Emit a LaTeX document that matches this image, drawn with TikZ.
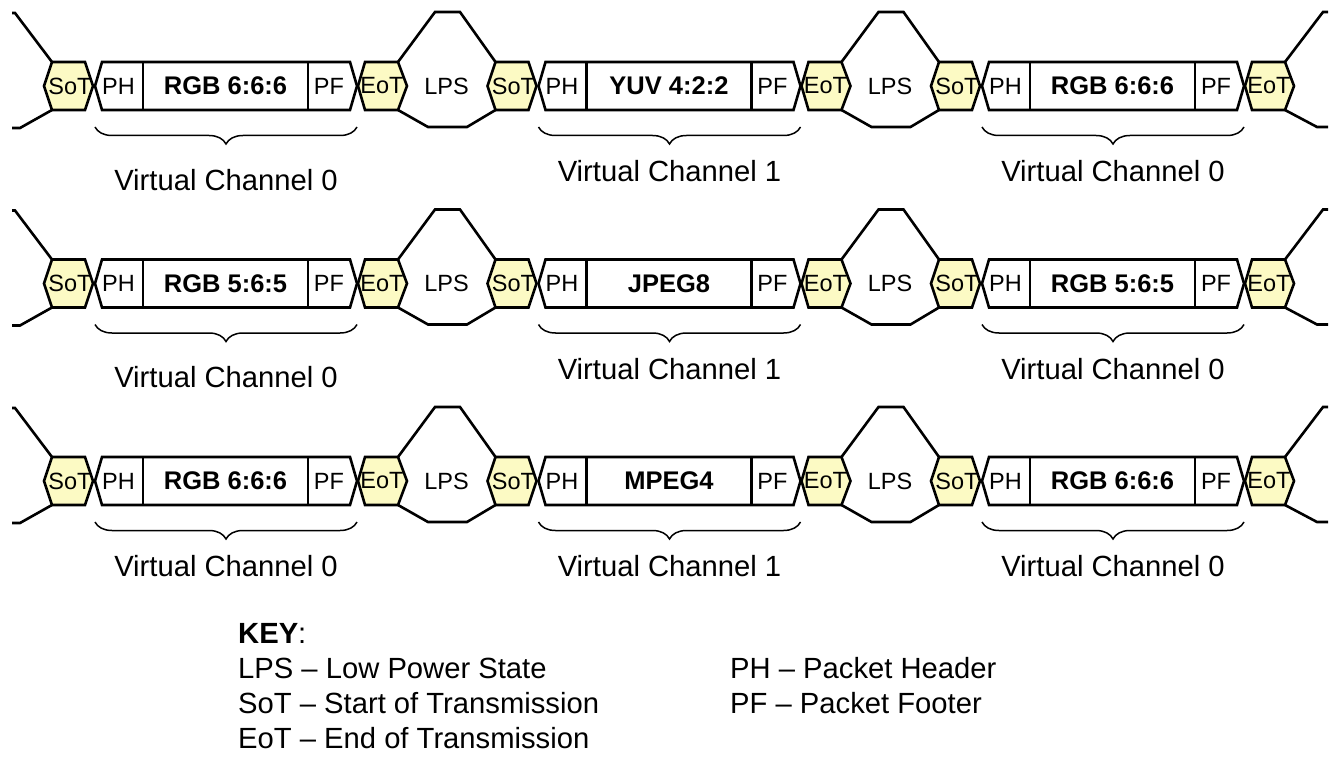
\documentclass[tikz,border=0pt]{standalone}
\usepackage{fontspec}
\setmainfont{Liberation Sans}
\usetikzlibrary{decorations.pathreplacing}
\definecolor{hexfill}{RGB}{252,250,196}
\begin{document}
\begin{tikzpicture}[x=1pt,y=-1pt,
  wire/.style={line width=2.6pt, line join=miter},
  hexbox/.style={wire, fill=hexfill},
  pkt/.style={wire, fill=white},
  lbl/.style={font=\fontsize{23.5}{28}\selectfont, inner sep=0pt},
  blbl/.style={font=\fontsize{25.5}{30}\selectfont\bfseries, inner sep=0pt},
  vc/.style={font=\fontsize{29.2}{35}\selectfont, inner sep=0pt},
  keytxt/.style={font=\fontsize{29.2}{35}\selectfont, inner sep=0pt, anchor=base west},
  brc/.style={line width=1.5pt, decorate, decoration={brace, mirror, amplitude=17pt}}
]
\useasboundingbox (0,0) rectangle (1332,759);

\foreach \r/\c/\ta/\tb/\tc/\da/\db in {0/86/RGB 6:6:6/YUV 4:2:2/RGB 6:6:6/94/85,
                                       1/283.5/RGB 5:6:5/JPEG8/RGB 5:6:5/94/86,
                                       2/481/RGB 6:6:6/MPEG4/RGB 6:6:6/85/85} {
  \foreach \s/\X/\txt/\dy in {0/0/\ta/\da, 1/443.5/\tb/\db, 2/887/\tc/\db} {
    % leads / LPS
    \ifnum\s=0
      \draw[wire] (12,\c-73) -- (15,\c-73) -- (52,\c-24);
      \draw[wire] (12,\c+42) -- (20,\c+42) -- (52,\c+24);
    \fi
    \ifnum\s<2
      \draw[wire] (\X+398,\c-24) -- (\X+435,\c-74) -- (\X+460,\c-74) -- (\X+495.5,\c-24);
      \draw[wire] (\X+398,\c+24) -- (\X+428,\c+41) -- (\X+467,\c+41) -- (\X+495.5,\c+24);
      \node[lbl] (lps-\r-\s) at (\X+446.5,\c) {LPS};
    \else
      \draw[wire] (\X+398,\c-24) -- (\X+436,\c-74) -- (\X+441,\c-74);
      \draw[wire] (\X+398,\c+24) -- (\X+430,\c+41) -- (\X+441,\c+41);
    \fi
    % SoT
    \draw[hexbox] (\X+44,\c) -- (\X+52,\c-24) -- (\X+85,\c-24) -- (\X+93,\c)
                  -- (\X+85,\c+24) -- (\X+52,\c+24) -- cycle;
    % packet
    \draw[pkt] (\X+95,\c) -- (\X+102,\c-24) -- (\X+350,\c-24) -- (\X+357,\c)
               -- (\X+350,\c+24) -- (\X+102,\c+24) -- cycle;
    \draw[wire] (\X+143,\c-24) -- (\X+143,\c+24);
    \draw[wire] (\X+308,\c-24) -- (\X+308,\c+24);
    % EoT
    \draw[hexbox] (\X+358,\c) -- (\X+365,\c-24) -- (\X+398,\c-24) -- (\X+407,\c)
                  -- (\X+398,\c+24) -- (\X+365,\c+24) -- cycle;
    % texts
    \node[lbl] (sot-\r-\s) at (\X+70,\c) {SoT};
    \node[lbl] (ph-\r-\s) at (\X+118.5,\c) {PH};
    \node[blbl] (data-\r-\s) at (\X+225.5,\c) {\txt};
    \node[lbl] (pf-\r-\s) at (\X+329,\c) {PF};
    \node[lbl] (eot-\r-\s) at (\X+382,\c) {EoT};
    % brace + label
    \draw[brc] (\X+95,\c+41) -- (\X+357,\c+41);
    \node[vc] (vc-\r-\s) at (\X+226,\c+\dy) {Virtual Channel \ifnum\s=1 1\else 0\fi};
  }
}

% key
\node[keytxt] (key) at (238,643) {\textbf{KEY}:};
\node[keytxt] (k1) at (238,678) {LPS – Low Power State};
\node[keytxt] (k2) at (238,713) {SoT – Start of Transmission};
\node[keytxt] (k3) at (238,748) {EoT – End of Transmission};
\node[keytxt] (k4) at (730,678) {PH – Packet Header};
\node[keytxt] (k5) at (730,713) {PF – Packet Footer};
\end{tikzpicture}
\end{document}
